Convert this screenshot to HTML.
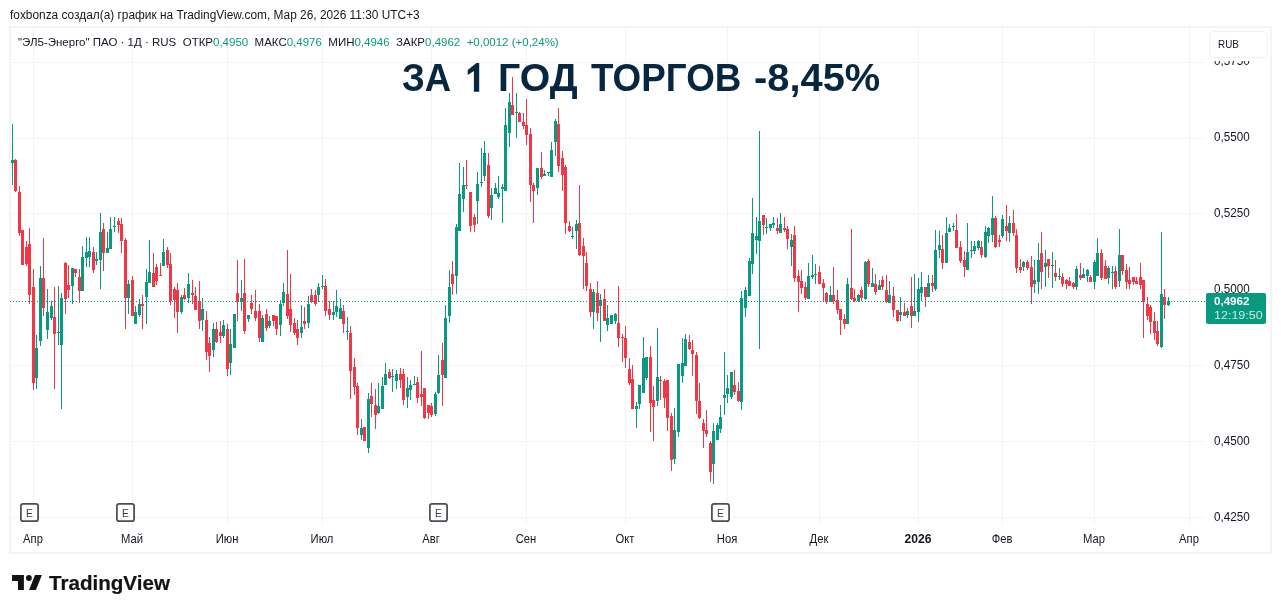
<!DOCTYPE html>
<html><head><meta charset="utf-8"><title>chart</title>
<style>
html,body{margin:0;padding:0;background:#fff;}
body{width:1281px;height:613px;position:relative;overflow:hidden;font-family:"Liberation Sans",sans-serif;color:#131722;}
.hdr{position:absolute;left:10px;top:7.8px;font-size:12px;transform:scaleX(0.99);line-height:14px;white-space:nowrap;color:#131722;transform-origin:0 0;}
.frame{position:absolute;left:9px;top:26px;width:1263px;height:528px;border:2px solid #f4f4f5;box-sizing:border-box;}
svg{position:absolute;left:0;top:0;}
.leg{position:absolute;left:18px;top:35px;font-size:11.5px;line-height:14px;white-space:nowrap;transform-origin:0 0;}
.leg span.g{color:#089981;}
.title{position:absolute;top:53.5px;font-size:39.4px;line-height:46px;font-weight:bold;color:#07263f;white-space:nowrap;transform-origin:0 0;}
.xl{position:absolute;top:532px;width:60px;text-align:center;font-size:12px;line-height:14px;transform:scaleX(0.935);}
.xl.b{font-weight:bold;transform:scaleX(1.01);}
.yl{position:absolute;left:1214px;font-size:12.5px;line-height:14px;transform:scaleX(0.935);transform-origin:0 0;}
.rubw{position:absolute;left:1206px;top:28px;width:64px;height:33px;background:#fff;}
.rub{position:absolute;left:1208.5px;top:30.5px;width:59px;height:27px;border:1.5px solid #f0f1f3;border-radius:5px;background:#fff;box-sizing:border-box;}
.rub span{position:absolute;left:8.5px;top:5.5px;font-size:11.5px;line-height:14px;transform:scaleX(0.86);transform-origin:0 0;}
.plab{position:absolute;left:1206px;top:293px;width:60px;height:31px;background:#089981;border-radius:2px;color:#fff;font-size:11.6px;}
.plab .p{position:absolute;left:8px;top:1px;line-height:14px;font-weight:bold;}
.plab .t{position:absolute;left:7.5px;top:15px;line-height:14px;color:rgba(255,255,255,0.8);transform:scaleX(1.08);transform-origin:0 0;}
.e{position:absolute;top:503px;width:19px;height:19px;}
.e svg{position:absolute;left:0;top:0;}
.e span{position:absolute;left:2px;top:2px;width:15px;font-size:11.7px;line-height:15px;text-align:center;color:#3c3f48;transform:scaleX(0.88);}
.logo{position:absolute;left:12px;top:575px;}
.tv{position:absolute;left:48.6px;top:570.7px;font-size:20.2px;line-height:24px;font-weight:bold;color:#131313;white-space:nowrap;transform-origin:0 0;transform:scaleX(1.02);-webkit-text-stroke:0.2px #131313;}
</style></head><body>
<div id="root" style="position:absolute;left:0;top:0;width:1281px;height:613px;transform:translateZ(0);will-change:transform;">
<div class="hdr">foxbonza создал(а) график на TradingView.com, Мар 26, 2026 11:30 UTC+3</div>
<div class="frame"></div>
<svg width="1281" height="613" viewBox="0 0 1281 613" shape-rendering="crispEdges">
<rect x="33" y="28" width="1" height="497" fill="#f3f4f5"/>
<rect x="132" y="28" width="1" height="497" fill="#f3f4f5"/>
<rect x="227" y="28" width="1" height="497" fill="#f3f4f5"/>
<rect x="322" y="28" width="1" height="497" fill="#f3f4f5"/>
<rect x="431" y="28" width="1" height="497" fill="#f3f4f5"/>
<rect x="526" y="28" width="1" height="497" fill="#f3f4f5"/>
<rect x="625" y="28" width="1" height="497" fill="#f3f4f5"/>
<rect x="727" y="28" width="1" height="497" fill="#f3f4f5"/>
<rect x="819" y="28" width="1" height="497" fill="#f3f4f5"/>
<rect x="918" y="28" width="1" height="497" fill="#f3f4f5"/>
<rect x="1002" y="28" width="1" height="497" fill="#f3f4f5"/>
<rect x="1094" y="28" width="1" height="497" fill="#f3f4f5"/>
<rect x="1189" y="28" width="1" height="497" fill="#f3f4f5"/>
<rect x="11" y="62" width="1194" height="1" fill="#f3f4f5"/>
<rect x="11" y="138" width="1194" height="1" fill="#f3f4f5"/>
<rect x="11" y="213" width="1194" height="1" fill="#f3f4f5"/>
<rect x="11" y="289" width="1194" height="1" fill="#f3f4f5"/>
<rect x="11" y="365" width="1194" height="1" fill="#f3f4f5"/>
<rect x="11" y="441" width="1194" height="1" fill="#f3f4f5"/>
<rect x="11" y="517" width="1194" height="1" fill="#f3f4f5"/>
</svg>
<svg width="1281" height="613" viewBox="0 0 1281 613" style="position:absolute;left:0;top:0"><path d="M479.2 62.9H476.4L467.7 70V74.9L473.9 70.9V91.8H479.2Z" fill="#07263f"/></svg><div class="title" style="left:402.28px;transform:scaleX(0.9254)">ЗА</div><div class="title" style="left:498.39px;transform:scaleX(0.9955)">ГОД</div><div class="title" style="left:590.67px;transform:scaleX(0.9346)">ТОРГОВ</div><div class="title" style="left:753.87px;transform:scaleX(1.0115)">-8,45%</div>
<svg width="1281" height="613" viewBox="0 0 1281 613" shape-rendering="crispEdges">
<rect x="12" y="124" width="1" height="61" fill="#089981"/>
<rect x="11" y="160" width="3" height="3" fill="#089981"/>
<rect x="15" y="159" width="1" height="33" fill="#f23645"/>
<rect x="14" y="160" width="3" height="31" fill="#f23645"/>
<rect x="19" y="186" width="1" height="50" fill="#f23645"/>
<rect x="18" y="192" width="3" height="41" fill="#f23645"/>
<rect x="22" y="230" width="1" height="35" fill="#f23645"/>
<rect x="21" y="230" width="3" height="35" fill="#f23645"/>
<rect x="26" y="241" width="1" height="25" fill="#f23645"/>
<rect x="25" y="247" width="3" height="17" fill="#f23645"/>
<rect x="29" y="228" width="1" height="76" fill="#f23645"/>
<rect x="28" y="244" width="3" height="51" fill="#f23645"/>
<rect x="33" y="269" width="1" height="121" fill="#f23645"/>
<rect x="32" y="287" width="3" height="96" fill="#f23645"/>
<rect x="36" y="335" width="1" height="54" fill="#089981"/>
<rect x="35" y="348" width="3" height="30" fill="#089981"/>
<rect x="40" y="266" width="1" height="80" fill="#089981"/>
<rect x="39" y="278" width="3" height="63" fill="#089981"/>
<rect x="43" y="238" width="1" height="78" fill="#f23645"/>
<rect x="42" y="278" width="3" height="30" fill="#f23645"/>
<rect x="47" y="289" width="1" height="50" fill="#089981"/>
<rect x="46" y="312" width="3" height="18" fill="#089981"/>
<rect x="51" y="301" width="1" height="19" fill="#089981"/>
<rect x="50" y="306" width="3" height="12" fill="#089981"/>
<rect x="54" y="287" width="1" height="102" fill="#f23645"/>
<rect x="53" y="317" width="3" height="17" fill="#f23645"/>
<rect x="58" y="286" width="1" height="59" fill="#089981"/>
<rect x="57" y="332" width="3" height="1" fill="#089981"/>
<rect x="61" y="293" width="1" height="116" fill="#089981"/>
<rect x="60" y="298" width="3" height="47" fill="#089981"/>
<rect x="65" y="262" width="1" height="52" fill="#f23645"/>
<rect x="64" y="263" width="3" height="36" fill="#f23645"/>
<rect x="68" y="265" width="1" height="33" fill="#f23645"/>
<rect x="67" y="285" width="3" height="5" fill="#f23645"/>
<rect x="72" y="268" width="1" height="36" fill="#089981"/>
<rect x="71" y="268" width="3" height="18" fill="#089981"/>
<rect x="75" y="269" width="1" height="8" fill="#f23645"/>
<rect x="74" y="269" width="3" height="4" fill="#f23645"/>
<rect x="79" y="269" width="1" height="34" fill="#f23645"/>
<rect x="78" y="277" width="3" height="14" fill="#f23645"/>
<rect x="82" y="246" width="1" height="45" fill="#089981"/>
<rect x="81" y="257" width="3" height="34" fill="#089981"/>
<rect x="86" y="237" width="1" height="30" fill="#089981"/>
<rect x="85" y="252" width="3" height="6" fill="#089981"/>
<rect x="89" y="237" width="1" height="30" fill="#089981"/>
<rect x="88" y="251" width="3" height="6" fill="#089981"/>
<rect x="93" y="247" width="1" height="26" fill="#f23645"/>
<rect x="92" y="252" width="3" height="18" fill="#f23645"/>
<rect x="96" y="252" width="1" height="13" fill="#089981"/>
<rect x="95" y="259" width="3" height="2" fill="#089981"/>
<rect x="100" y="213" width="1" height="76" fill="#089981"/>
<rect x="99" y="232" width="3" height="28" fill="#089981"/>
<rect x="103" y="223" width="1" height="48" fill="#f23645"/>
<rect x="102" y="229" width="3" height="24" fill="#f23645"/>
<rect x="107" y="232" width="1" height="21" fill="#089981"/>
<rect x="106" y="248" width="3" height="5" fill="#089981"/>
<rect x="110" y="217" width="1" height="32" fill="#089981"/>
<rect x="109" y="229" width="3" height="20" fill="#089981"/>
<rect x="114" y="217" width="1" height="15" fill="#089981"/>
<rect x="113" y="226" width="3" height="1" fill="#089981"/>
<rect x="118" y="218" width="1" height="15" fill="#f23645"/>
<rect x="117" y="221" width="3" height="4" fill="#f23645"/>
<rect x="121" y="218" width="1" height="35" fill="#f23645"/>
<rect x="120" y="224" width="3" height="17" fill="#f23645"/>
<rect x="125" y="238" width="1" height="91" fill="#f23645"/>
<rect x="124" y="240" width="3" height="58" fill="#f23645"/>
<rect x="128" y="280" width="1" height="34" fill="#089981"/>
<rect x="127" y="284" width="3" height="14" fill="#089981"/>
<rect x="132" y="276" width="1" height="40" fill="#f23645"/>
<rect x="131" y="280" width="3" height="36" fill="#f23645"/>
<rect x="135" y="306" width="1" height="18" fill="#089981"/>
<rect x="134" y="312" width="3" height="12" fill="#089981"/>
<rect x="139" y="299" width="1" height="18" fill="#089981"/>
<rect x="138" y="304" width="3" height="11" fill="#089981"/>
<rect x="142" y="295" width="1" height="34" fill="#f23645"/>
<rect x="141" y="304" width="3" height="2" fill="#f23645"/>
<rect x="146" y="269" width="1" height="55" fill="#089981"/>
<rect x="145" y="282" width="3" height="15" fill="#089981"/>
<rect x="149" y="240" width="1" height="43" fill="#089981"/>
<rect x="148" y="272" width="3" height="11" fill="#089981"/>
<rect x="153" y="253" width="1" height="34" fill="#f23645"/>
<rect x="152" y="273" width="3" height="14" fill="#f23645"/>
<rect x="156" y="264" width="1" height="21" fill="#f23645"/>
<rect x="155" y="267" width="3" height="14" fill="#f23645"/>
<rect x="160" y="263" width="1" height="13" fill="#f23645"/>
<rect x="159" y="275" width="3" height="1" fill="#f23645"/>
<rect x="163" y="239" width="1" height="27" fill="#089981"/>
<rect x="162" y="252" width="3" height="14" fill="#089981"/>
<rect x="167" y="247" width="1" height="21" fill="#f23645"/>
<rect x="166" y="250" width="3" height="15" fill="#f23645"/>
<rect x="170" y="253" width="1" height="52" fill="#f23645"/>
<rect x="169" y="264" width="3" height="37" fill="#f23645"/>
<rect x="174" y="287" width="1" height="31" fill="#f23645"/>
<rect x="173" y="289" width="3" height="11" fill="#f23645"/>
<rect x="177" y="283" width="1" height="50" fill="#f23645"/>
<rect x="176" y="290" width="3" height="22" fill="#f23645"/>
<rect x="181" y="295" width="1" height="19" fill="#089981"/>
<rect x="180" y="297" width="3" height="15" fill="#089981"/>
<rect x="184" y="288" width="1" height="12" fill="#f23645"/>
<rect x="183" y="295" width="3" height="4" fill="#f23645"/>
<rect x="188" y="273" width="1" height="30" fill="#089981"/>
<rect x="187" y="284" width="3" height="14" fill="#089981"/>
<rect x="192" y="280" width="1" height="24" fill="#f23645"/>
<rect x="191" y="293" width="3" height="2" fill="#f23645"/>
<rect x="195" y="287" width="1" height="23" fill="#f23645"/>
<rect x="194" y="296" width="3" height="14" fill="#f23645"/>
<rect x="199" y="281" width="1" height="48" fill="#f23645"/>
<rect x="198" y="301" width="3" height="20" fill="#f23645"/>
<rect x="202" y="298" width="1" height="33" fill="#089981"/>
<rect x="201" y="309" width="3" height="11" fill="#089981"/>
<rect x="206" y="311" width="1" height="49" fill="#f23645"/>
<rect x="205" y="320" width="3" height="32" fill="#f23645"/>
<rect x="209" y="337" width="1" height="35" fill="#f23645"/>
<rect x="208" y="343" width="3" height="13" fill="#f23645"/>
<rect x="213" y="323" width="1" height="34" fill="#089981"/>
<rect x="212" y="329" width="3" height="21" fill="#089981"/>
<rect x="216" y="322" width="1" height="21" fill="#f23645"/>
<rect x="215" y="329" width="3" height="13" fill="#f23645"/>
<rect x="220" y="321" width="1" height="22" fill="#f23645"/>
<rect x="219" y="332" width="3" height="4" fill="#f23645"/>
<rect x="223" y="320" width="1" height="18" fill="#089981"/>
<rect x="222" y="325" width="3" height="11" fill="#089981"/>
<rect x="227" y="324" width="1" height="52" fill="#f23645"/>
<rect x="226" y="329" width="3" height="40" fill="#f23645"/>
<rect x="230" y="329" width="1" height="46" fill="#089981"/>
<rect x="229" y="344" width="3" height="19" fill="#089981"/>
<rect x="234" y="314" width="1" height="34" fill="#089981"/>
<rect x="233" y="314" width="3" height="34" fill="#089981"/>
<rect x="237" y="260" width="1" height="61" fill="#f23645"/>
<rect x="236" y="293" width="3" height="9" fill="#f23645"/>
<rect x="241" y="280" width="1" height="31" fill="#089981"/>
<rect x="240" y="298" width="3" height="4" fill="#089981"/>
<rect x="244" y="259" width="1" height="75" fill="#f23645"/>
<rect x="243" y="293" width="3" height="38" fill="#f23645"/>
<rect x="248" y="315" width="1" height="7" fill="#089981"/>
<rect x="247" y="315" width="3" height="4" fill="#089981"/>
<rect x="251" y="295" width="1" height="19" fill="#f23645"/>
<rect x="250" y="303" width="3" height="6" fill="#f23645"/>
<rect x="255" y="290" width="1" height="31" fill="#f23645"/>
<rect x="254" y="311" width="3" height="7" fill="#f23645"/>
<rect x="259" y="304" width="1" height="38" fill="#f23645"/>
<rect x="258" y="311" width="3" height="27" fill="#f23645"/>
<rect x="262" y="315" width="1" height="27" fill="#089981"/>
<rect x="261" y="318" width="3" height="24" fill="#089981"/>
<rect x="266" y="309" width="1" height="22" fill="#f23645"/>
<rect x="265" y="314" width="3" height="14" fill="#f23645"/>
<rect x="269" y="316" width="1" height="12" fill="#089981"/>
<rect x="268" y="321" width="3" height="5" fill="#089981"/>
<rect x="273" y="315" width="1" height="11" fill="#f23645"/>
<rect x="272" y="315" width="3" height="6" fill="#f23645"/>
<rect x="276" y="316" width="1" height="19" fill="#f23645"/>
<rect x="275" y="316" width="3" height="13" fill="#f23645"/>
<rect x="280" y="300" width="1" height="36" fill="#089981"/>
<rect x="279" y="304" width="3" height="21" fill="#089981"/>
<rect x="283" y="283" width="1" height="23" fill="#089981"/>
<rect x="282" y="292" width="3" height="11" fill="#089981"/>
<rect x="287" y="250" width="1" height="69" fill="#f23645"/>
<rect x="286" y="294" width="3" height="22" fill="#f23645"/>
<rect x="290" y="274" width="1" height="58" fill="#f23645"/>
<rect x="289" y="309" width="3" height="16" fill="#f23645"/>
<rect x="294" y="318" width="1" height="17" fill="#f23645"/>
<rect x="293" y="323" width="3" height="10" fill="#f23645"/>
<rect x="297" y="320" width="1" height="25" fill="#f23645"/>
<rect x="296" y="329" width="3" height="9" fill="#f23645"/>
<rect x="301" y="305" width="1" height="33" fill="#089981"/>
<rect x="300" y="327" width="3" height="6" fill="#089981"/>
<rect x="304" y="307" width="1" height="22" fill="#f23645"/>
<rect x="303" y="321" width="3" height="3" fill="#f23645"/>
<rect x="308" y="296" width="1" height="32" fill="#089981"/>
<rect x="307" y="304" width="3" height="19" fill="#089981"/>
<rect x="311" y="289" width="1" height="14" fill="#f23645"/>
<rect x="310" y="295" width="3" height="7" fill="#f23645"/>
<rect x="315" y="290" width="1" height="16" fill="#f23645"/>
<rect x="314" y="295" width="3" height="9" fill="#f23645"/>
<rect x="318" y="283" width="1" height="19" fill="#089981"/>
<rect x="317" y="287" width="3" height="8" fill="#089981"/>
<rect x="322" y="275" width="1" height="14" fill="#089981"/>
<rect x="321" y="286" width="3" height="1" fill="#089981"/>
<rect x="325" y="279" width="1" height="37" fill="#f23645"/>
<rect x="324" y="286" width="3" height="25" fill="#f23645"/>
<rect x="329" y="301" width="1" height="19" fill="#f23645"/>
<rect x="328" y="309" width="3" height="6" fill="#f23645"/>
<rect x="333" y="301" width="1" height="19" fill="#089981"/>
<rect x="332" y="312" width="3" height="3" fill="#089981"/>
<rect x="336" y="290" width="1" height="27" fill="#089981"/>
<rect x="335" y="306" width="3" height="6" fill="#089981"/>
<rect x="340" y="299" width="1" height="20" fill="#089981"/>
<rect x="339" y="308" width="3" height="11" fill="#089981"/>
<rect x="343" y="305" width="1" height="28" fill="#f23645"/>
<rect x="342" y="311" width="3" height="13" fill="#f23645"/>
<rect x="347" y="317" width="1" height="23" fill="#089981"/>
<rect x="346" y="331" width="3" height="1" fill="#089981"/>
<rect x="350" y="326" width="1" height="73" fill="#f23645"/>
<rect x="349" y="333" width="3" height="38" fill="#f23645"/>
<rect x="354" y="358" width="1" height="37" fill="#f23645"/>
<rect x="353" y="367" width="3" height="20" fill="#f23645"/>
<rect x="357" y="383" width="1" height="52" fill="#f23645"/>
<rect x="356" y="386" width="3" height="42" fill="#f23645"/>
<rect x="361" y="419" width="1" height="21" fill="#089981"/>
<rect x="360" y="428" width="3" height="7" fill="#089981"/>
<rect x="364" y="427" width="1" height="14" fill="#f23645"/>
<rect x="363" y="427" width="3" height="14" fill="#f23645"/>
<rect x="368" y="393" width="1" height="60" fill="#089981"/>
<rect x="367" y="399" width="3" height="49" fill="#089981"/>
<rect x="371" y="383" width="1" height="34" fill="#f23645"/>
<rect x="370" y="396" width="3" height="8" fill="#f23645"/>
<rect x="375" y="389" width="1" height="40" fill="#f23645"/>
<rect x="374" y="405" width="3" height="10" fill="#f23645"/>
<rect x="378" y="383" width="1" height="31" fill="#089981"/>
<rect x="377" y="406" width="3" height="7" fill="#089981"/>
<rect x="382" y="377" width="1" height="32" fill="#089981"/>
<rect x="381" y="386" width="3" height="23" fill="#089981"/>
<rect x="385" y="363" width="1" height="22" fill="#089981"/>
<rect x="384" y="374" width="3" height="11" fill="#089981"/>
<rect x="389" y="369" width="1" height="10" fill="#f23645"/>
<rect x="388" y="372" width="3" height="6" fill="#f23645"/>
<rect x="392" y="369" width="1" height="23" fill="#089981"/>
<rect x="391" y="376" width="3" height="1" fill="#089981"/>
<rect x="396" y="370" width="1" height="19" fill="#089981"/>
<rect x="395" y="374" width="3" height="7" fill="#089981"/>
<rect x="400" y="368" width="1" height="20" fill="#f23645"/>
<rect x="399" y="374" width="3" height="6" fill="#f23645"/>
<rect x="403" y="369" width="1" height="36" fill="#f23645"/>
<rect x="402" y="374" width="3" height="26" fill="#f23645"/>
<rect x="407" y="377" width="1" height="31" fill="#089981"/>
<rect x="406" y="388" width="3" height="9" fill="#089981"/>
<rect x="410" y="380" width="1" height="20" fill="#089981"/>
<rect x="409" y="385" width="3" height="5" fill="#089981"/>
<rect x="414" y="376" width="1" height="9" fill="#089981"/>
<rect x="413" y="384" width="3" height="1" fill="#089981"/>
<rect x="417" y="377" width="1" height="26" fill="#f23645"/>
<rect x="416" y="382" width="3" height="16" fill="#f23645"/>
<rect x="421" y="351" width="1" height="55" fill="#f23645"/>
<rect x="420" y="394" width="3" height="3" fill="#f23645"/>
<rect x="424" y="388" width="1" height="31" fill="#f23645"/>
<rect x="423" y="388" width="3" height="30" fill="#f23645"/>
<rect x="428" y="405" width="1" height="14" fill="#f23645"/>
<rect x="427" y="405" width="3" height="8" fill="#f23645"/>
<rect x="431" y="403" width="1" height="14" fill="#f23645"/>
<rect x="430" y="406" width="3" height="9" fill="#f23645"/>
<rect x="435" y="392" width="1" height="24" fill="#089981"/>
<rect x="434" y="394" width="3" height="20" fill="#089981"/>
<rect x="438" y="355" width="1" height="39" fill="#089981"/>
<rect x="437" y="375" width="3" height="18" fill="#089981"/>
<rect x="442" y="343" width="1" height="63" fill="#f23645"/>
<rect x="441" y="360" width="3" height="15" fill="#f23645"/>
<rect x="445" y="305" width="1" height="73" fill="#089981"/>
<rect x="444" y="318" width="3" height="60" fill="#089981"/>
<rect x="449" y="270" width="1" height="53" fill="#089981"/>
<rect x="448" y="287" width="3" height="29" fill="#089981"/>
<rect x="452" y="261" width="1" height="34" fill="#f23645"/>
<rect x="451" y="274" width="3" height="10" fill="#f23645"/>
<rect x="456" y="224" width="1" height="70" fill="#089981"/>
<rect x="455" y="227" width="3" height="49" fill="#089981"/>
<rect x="459" y="163" width="1" height="68" fill="#089981"/>
<rect x="458" y="194" width="3" height="37" fill="#089981"/>
<rect x="463" y="167" width="1" height="45" fill="#089981"/>
<rect x="462" y="185" width="3" height="14" fill="#089981"/>
<rect x="466" y="160" width="1" height="29" fill="#f23645"/>
<rect x="465" y="185" width="3" height="1" fill="#f23645"/>
<rect x="470" y="192" width="1" height="40" fill="#f23645"/>
<rect x="469" y="192" width="3" height="34" fill="#f23645"/>
<rect x="474" y="214" width="1" height="18" fill="#f23645"/>
<rect x="473" y="217" width="3" height="8" fill="#f23645"/>
<rect x="477" y="172" width="1" height="52" fill="#089981"/>
<rect x="476" y="184" width="3" height="17" fill="#089981"/>
<rect x="481" y="148" width="1" height="39" fill="#089981"/>
<rect x="480" y="182" width="3" height="1" fill="#089981"/>
<rect x="484" y="141" width="1" height="40" fill="#089981"/>
<rect x="483" y="153" width="3" height="23" fill="#089981"/>
<rect x="488" y="153" width="1" height="65" fill="#f23645"/>
<rect x="487" y="165" width="3" height="51" fill="#f23645"/>
<rect x="491" y="188" width="1" height="32" fill="#089981"/>
<rect x="490" y="195" width="3" height="13" fill="#089981"/>
<rect x="495" y="183" width="1" height="11" fill="#089981"/>
<rect x="494" y="188" width="3" height="6" fill="#089981"/>
<rect x="498" y="176" width="1" height="23" fill="#089981"/>
<rect x="497" y="193" width="3" height="4" fill="#089981"/>
<rect x="502" y="184" width="1" height="39" fill="#089981"/>
<rect x="501" y="187" width="3" height="2" fill="#089981"/>
<rect x="505" y="108" width="1" height="83" fill="#089981"/>
<rect x="504" y="125" width="3" height="66" fill="#089981"/>
<rect x="509" y="93" width="1" height="54" fill="#089981"/>
<rect x="508" y="102" width="3" height="31" fill="#089981"/>
<rect x="512" y="77" width="1" height="38" fill="#f23645"/>
<rect x="511" y="105" width="3" height="10" fill="#f23645"/>
<rect x="516" y="93" width="1" height="45" fill="#089981"/>
<rect x="515" y="112" width="3" height="1" fill="#089981"/>
<rect x="519" y="112" width="1" height="10" fill="#f23645"/>
<rect x="518" y="113" width="3" height="9" fill="#f23645"/>
<rect x="523" y="113" width="1" height="16" fill="#f23645"/>
<rect x="522" y="122" width="3" height="4" fill="#f23645"/>
<rect x="526" y="99" width="1" height="46" fill="#f23645"/>
<rect x="525" y="125" width="3" height="10" fill="#f23645"/>
<rect x="530" y="128" width="1" height="74" fill="#f23645"/>
<rect x="529" y="134" width="3" height="51" fill="#f23645"/>
<rect x="533" y="183" width="1" height="40" fill="#f23645"/>
<rect x="532" y="185" width="3" height="6" fill="#f23645"/>
<rect x="537" y="168" width="1" height="27" fill="#089981"/>
<rect x="536" y="168" width="3" height="20" fill="#089981"/>
<rect x="541" y="152" width="1" height="27" fill="#f23645"/>
<rect x="540" y="168" width="3" height="9" fill="#f23645"/>
<rect x="544" y="170" width="1" height="6" fill="#089981"/>
<rect x="543" y="174" width="3" height="2" fill="#089981"/>
<rect x="548" y="172" width="1" height="4" fill="#089981"/>
<rect x="547" y="172" width="3" height="1" fill="#089981"/>
<rect x="551" y="142" width="1" height="35" fill="#089981"/>
<rect x="550" y="150" width="3" height="27" fill="#089981"/>
<rect x="555" y="119" width="1" height="37" fill="#089981"/>
<rect x="554" y="121" width="3" height="21" fill="#089981"/>
<rect x="558" y="108" width="1" height="64" fill="#f23645"/>
<rect x="557" y="124" width="3" height="42" fill="#f23645"/>
<rect x="562" y="151" width="1" height="40" fill="#f23645"/>
<rect x="561" y="158" width="3" height="17" fill="#f23645"/>
<rect x="565" y="165" width="1" height="69" fill="#f23645"/>
<rect x="564" y="167" width="3" height="56" fill="#f23645"/>
<rect x="569" y="221" width="1" height="11" fill="#f23645"/>
<rect x="568" y="226" width="3" height="5" fill="#f23645"/>
<rect x="572" y="227" width="1" height="12" fill="#089981"/>
<rect x="571" y="236" width="3" height="1" fill="#089981"/>
<rect x="576" y="220" width="1" height="29" fill="#089981"/>
<rect x="575" y="224" width="3" height="7" fill="#089981"/>
<rect x="579" y="185" width="1" height="71" fill="#f23645"/>
<rect x="578" y="223" width="3" height="32" fill="#f23645"/>
<rect x="583" y="238" width="1" height="51" fill="#f23645"/>
<rect x="582" y="246" width="3" height="10" fill="#f23645"/>
<rect x="586" y="252" width="1" height="39" fill="#f23645"/>
<rect x="585" y="263" width="3" height="23" fill="#f23645"/>
<rect x="590" y="283" width="1" height="34" fill="#f23645"/>
<rect x="589" y="289" width="3" height="23" fill="#f23645"/>
<rect x="593" y="289" width="1" height="40" fill="#089981"/>
<rect x="592" y="292" width="3" height="20" fill="#089981"/>
<rect x="597" y="281" width="1" height="40" fill="#f23645"/>
<rect x="596" y="293" width="3" height="20" fill="#f23645"/>
<rect x="600" y="294" width="1" height="48" fill="#089981"/>
<rect x="599" y="300" width="3" height="6" fill="#089981"/>
<rect x="604" y="289" width="1" height="32" fill="#f23645"/>
<rect x="603" y="299" width="3" height="22" fill="#f23645"/>
<rect x="607" y="305" width="1" height="26" fill="#089981"/>
<rect x="606" y="318" width="3" height="7" fill="#089981"/>
<rect x="611" y="315" width="1" height="9" fill="#089981"/>
<rect x="610" y="315" width="3" height="9" fill="#089981"/>
<rect x="615" y="313" width="1" height="11" fill="#089981"/>
<rect x="614" y="314" width="3" height="7" fill="#089981"/>
<rect x="618" y="286" width="1" height="61" fill="#f23645"/>
<rect x="617" y="323" width="3" height="15" fill="#f23645"/>
<rect x="622" y="334" width="1" height="28" fill="#f23645"/>
<rect x="621" y="337" width="3" height="1" fill="#f23645"/>
<rect x="625" y="326" width="1" height="42" fill="#f23645"/>
<rect x="624" y="338" width="3" height="20" fill="#f23645"/>
<rect x="629" y="358" width="1" height="27" fill="#f23645"/>
<rect x="628" y="369" width="3" height="14" fill="#f23645"/>
<rect x="632" y="365" width="1" height="44" fill="#f23645"/>
<rect x="631" y="379" width="3" height="30" fill="#f23645"/>
<rect x="636" y="402" width="1" height="26" fill="#089981"/>
<rect x="635" y="406" width="3" height="3" fill="#089981"/>
<rect x="639" y="385" width="1" height="24" fill="#089981"/>
<rect x="638" y="385" width="3" height="19" fill="#089981"/>
<rect x="643" y="337" width="1" height="56" fill="#089981"/>
<rect x="642" y="358" width="3" height="35" fill="#089981"/>
<rect x="646" y="357" width="1" height="23" fill="#089981"/>
<rect x="645" y="357" width="3" height="21" fill="#089981"/>
<rect x="650" y="346" width="1" height="86" fill="#f23645"/>
<rect x="649" y="357" width="3" height="46" fill="#f23645"/>
<rect x="653" y="386" width="1" height="55" fill="#f23645"/>
<rect x="652" y="400" width="3" height="7" fill="#f23645"/>
<rect x="657" y="328" width="1" height="78" fill="#089981"/>
<rect x="656" y="377" width="3" height="24" fill="#089981"/>
<rect x="660" y="376" width="1" height="24" fill="#f23645"/>
<rect x="659" y="380" width="3" height="1" fill="#f23645"/>
<rect x="664" y="379" width="1" height="29" fill="#f23645"/>
<rect x="663" y="381" width="3" height="17" fill="#f23645"/>
<rect x="667" y="380" width="1" height="51" fill="#f23645"/>
<rect x="666" y="380" width="3" height="38" fill="#f23645"/>
<rect x="671" y="413" width="1" height="58" fill="#f23645"/>
<rect x="670" y="416" width="3" height="44" fill="#f23645"/>
<rect x="674" y="408" width="1" height="56" fill="#089981"/>
<rect x="673" y="430" width="3" height="29" fill="#089981"/>
<rect x="678" y="364" width="1" height="73" fill="#089981"/>
<rect x="677" y="364" width="3" height="68" fill="#089981"/>
<rect x="682" y="338" width="1" height="45" fill="#089981"/>
<rect x="681" y="363" width="3" height="13" fill="#089981"/>
<rect x="685" y="334" width="1" height="32" fill="#089981"/>
<rect x="684" y="339" width="3" height="27" fill="#089981"/>
<rect x="689" y="335" width="1" height="15" fill="#f23645"/>
<rect x="688" y="342" width="3" height="7" fill="#f23645"/>
<rect x="692" y="340" width="1" height="36" fill="#f23645"/>
<rect x="691" y="350" width="3" height="4" fill="#f23645"/>
<rect x="696" y="352" width="1" height="62" fill="#f23645"/>
<rect x="695" y="355" width="3" height="46" fill="#f23645"/>
<rect x="699" y="383" width="1" height="36" fill="#f23645"/>
<rect x="698" y="401" width="3" height="17" fill="#f23645"/>
<rect x="703" y="419" width="1" height="29" fill="#f23645"/>
<rect x="702" y="423" width="3" height="8" fill="#f23645"/>
<rect x="706" y="410" width="1" height="27" fill="#f23645"/>
<rect x="705" y="430" width="3" height="4" fill="#f23645"/>
<rect x="710" y="441" width="1" height="41" fill="#f23645"/>
<rect x="709" y="443" width="3" height="29" fill="#f23645"/>
<rect x="713" y="423" width="1" height="61" fill="#089981"/>
<rect x="712" y="431" width="3" height="33" fill="#089981"/>
<rect x="717" y="423" width="1" height="17" fill="#089981"/>
<rect x="716" y="425" width="3" height="15" fill="#089981"/>
<rect x="720" y="405" width="1" height="28" fill="#089981"/>
<rect x="719" y="417" width="3" height="12" fill="#089981"/>
<rect x="724" y="352" width="1" height="63" fill="#089981"/>
<rect x="723" y="395" width="3" height="3" fill="#089981"/>
<rect x="727" y="375" width="1" height="28" fill="#089981"/>
<rect x="726" y="388" width="3" height="6" fill="#089981"/>
<rect x="731" y="372" width="1" height="27" fill="#089981"/>
<rect x="730" y="372" width="3" height="25" fill="#089981"/>
<rect x="734" y="370" width="1" height="25" fill="#f23645"/>
<rect x="733" y="385" width="3" height="7" fill="#f23645"/>
<rect x="738" y="382" width="1" height="20" fill="#f23645"/>
<rect x="737" y="391" width="3" height="10" fill="#f23645"/>
<rect x="741" y="291" width="1" height="119" fill="#089981"/>
<rect x="740" y="298" width="3" height="104" fill="#089981"/>
<rect x="745" y="287" width="1" height="30" fill="#089981"/>
<rect x="744" y="290" width="3" height="18" fill="#089981"/>
<rect x="749" y="258" width="1" height="38" fill="#089981"/>
<rect x="748" y="261" width="3" height="35" fill="#089981"/>
<rect x="752" y="198" width="1" height="76" fill="#089981"/>
<rect x="751" y="233" width="3" height="31" fill="#089981"/>
<rect x="756" y="217" width="1" height="37" fill="#089981"/>
<rect x="755" y="236" width="3" height="4" fill="#089981"/>
<rect x="759" y="131" width="1" height="218" fill="#089981"/>
<rect x="758" y="221" width="3" height="20" fill="#089981"/>
<rect x="763" y="215" width="1" height="20" fill="#f23645"/>
<rect x="762" y="215" width="3" height="10" fill="#f23645"/>
<rect x="766" y="218" width="1" height="16" fill="#089981"/>
<rect x="765" y="227" width="3" height="1" fill="#089981"/>
<rect x="770" y="224" width="1" height="7" fill="#089981"/>
<rect x="769" y="224" width="3" height="4" fill="#089981"/>
<rect x="773" y="217" width="1" height="11" fill="#089981"/>
<rect x="772" y="223" width="3" height="2" fill="#089981"/>
<rect x="777" y="218" width="1" height="16" fill="#f23645"/>
<rect x="776" y="228" width="3" height="3" fill="#f23645"/>
<rect x="780" y="213" width="1" height="20" fill="#089981"/>
<rect x="779" y="224" width="3" height="9" fill="#089981"/>
<rect x="784" y="217" width="1" height="15" fill="#f23645"/>
<rect x="783" y="228" width="3" height="2" fill="#f23645"/>
<rect x="787" y="226" width="1" height="23" fill="#f23645"/>
<rect x="786" y="229" width="3" height="10" fill="#f23645"/>
<rect x="791" y="234" width="1" height="32" fill="#089981"/>
<rect x="790" y="240" width="3" height="7" fill="#089981"/>
<rect x="794" y="226" width="1" height="56" fill="#f23645"/>
<rect x="793" y="235" width="3" height="43" fill="#f23645"/>
<rect x="798" y="270" width="1" height="42" fill="#f23645"/>
<rect x="797" y="276" width="3" height="6" fill="#f23645"/>
<rect x="801" y="270" width="1" height="24" fill="#f23645"/>
<rect x="800" y="281" width="3" height="7" fill="#f23645"/>
<rect x="805" y="282" width="1" height="18" fill="#f23645"/>
<rect x="804" y="287" width="3" height="11" fill="#f23645"/>
<rect x="808" y="263" width="1" height="36" fill="#089981"/>
<rect x="807" y="276" width="3" height="23" fill="#089981"/>
<rect x="812" y="255" width="1" height="24" fill="#089981"/>
<rect x="811" y="275" width="3" height="2" fill="#089981"/>
<rect x="815" y="264" width="1" height="20" fill="#089981"/>
<rect x="814" y="274" width="3" height="1" fill="#089981"/>
<rect x="819" y="266" width="1" height="18" fill="#f23645"/>
<rect x="818" y="272" width="3" height="12" fill="#f23645"/>
<rect x="823" y="279" width="1" height="23" fill="#f23645"/>
<rect x="822" y="283" width="3" height="5" fill="#f23645"/>
<rect x="826" y="292" width="1" height="12" fill="#f23645"/>
<rect x="825" y="293" width="3" height="9" fill="#f23645"/>
<rect x="830" y="286" width="1" height="16" fill="#089981"/>
<rect x="829" y="295" width="3" height="7" fill="#089981"/>
<rect x="833" y="267" width="1" height="37" fill="#f23645"/>
<rect x="832" y="295" width="3" height="6" fill="#f23645"/>
<rect x="837" y="290" width="1" height="24" fill="#f23645"/>
<rect x="836" y="300" width="3" height="10" fill="#f23645"/>
<rect x="840" y="309" width="1" height="26" fill="#f23645"/>
<rect x="839" y="309" width="3" height="11" fill="#f23645"/>
<rect x="844" y="314" width="1" height="15" fill="#f23645"/>
<rect x="843" y="319" width="3" height="5" fill="#f23645"/>
<rect x="847" y="278" width="1" height="46" fill="#089981"/>
<rect x="846" y="284" width="3" height="40" fill="#089981"/>
<rect x="851" y="229" width="1" height="71" fill="#f23645"/>
<rect x="850" y="288" width="3" height="11" fill="#f23645"/>
<rect x="854" y="289" width="1" height="13" fill="#f23645"/>
<rect x="853" y="298" width="3" height="3" fill="#f23645"/>
<rect x="858" y="294" width="1" height="8" fill="#089981"/>
<rect x="857" y="295" width="3" height="6" fill="#089981"/>
<rect x="861" y="287" width="1" height="14" fill="#f23645"/>
<rect x="860" y="290" width="3" height="8" fill="#f23645"/>
<rect x="865" y="261" width="1" height="39" fill="#089981"/>
<rect x="864" y="262" width="3" height="37" fill="#089981"/>
<rect x="868" y="259" width="1" height="28" fill="#f23645"/>
<rect x="867" y="261" width="3" height="23" fill="#f23645"/>
<rect x="872" y="268" width="1" height="19" fill="#089981"/>
<rect x="871" y="283" width="3" height="4" fill="#089981"/>
<rect x="875" y="274" width="1" height="21" fill="#f23645"/>
<rect x="874" y="284" width="3" height="8" fill="#f23645"/>
<rect x="879" y="280" width="1" height="10" fill="#089981"/>
<rect x="878" y="285" width="3" height="5" fill="#089981"/>
<rect x="882" y="276" width="1" height="14" fill="#f23645"/>
<rect x="881" y="280" width="3" height="7" fill="#f23645"/>
<rect x="886" y="275" width="1" height="28" fill="#f23645"/>
<rect x="885" y="290" width="3" height="12" fill="#f23645"/>
<rect x="889" y="281" width="1" height="22" fill="#089981"/>
<rect x="888" y="295" width="3" height="8" fill="#089981"/>
<rect x="893" y="287" width="1" height="30" fill="#f23645"/>
<rect x="892" y="296" width="3" height="14" fill="#f23645"/>
<rect x="897" y="310" width="1" height="12" fill="#f23645"/>
<rect x="896" y="310" width="3" height="11" fill="#f23645"/>
<rect x="900" y="297" width="1" height="24" fill="#089981"/>
<rect x="899" y="312" width="3" height="3" fill="#089981"/>
<rect x="904" y="303" width="1" height="13" fill="#f23645"/>
<rect x="903" y="312" width="3" height="4" fill="#f23645"/>
<rect x="907" y="308" width="1" height="10" fill="#089981"/>
<rect x="906" y="311" width="3" height="4" fill="#089981"/>
<rect x="911" y="277" width="1" height="51" fill="#f23645"/>
<rect x="910" y="306" width="3" height="10" fill="#f23645"/>
<rect x="914" y="274" width="1" height="42" fill="#089981"/>
<rect x="913" y="311" width="3" height="5" fill="#089981"/>
<rect x="918" y="278" width="1" height="44" fill="#089981"/>
<rect x="917" y="289" width="3" height="23" fill="#089981"/>
<rect x="921" y="272" width="1" height="29" fill="#089981"/>
<rect x="920" y="287" width="3" height="6" fill="#089981"/>
<rect x="925" y="287" width="1" height="20" fill="#f23645"/>
<rect x="924" y="287" width="3" height="10" fill="#f23645"/>
<rect x="928" y="275" width="1" height="22" fill="#089981"/>
<rect x="927" y="283" width="3" height="14" fill="#089981"/>
<rect x="932" y="275" width="1" height="17" fill="#f23645"/>
<rect x="931" y="283" width="3" height="3" fill="#f23645"/>
<rect x="935" y="230" width="1" height="61" fill="#089981"/>
<rect x="934" y="250" width="3" height="39" fill="#089981"/>
<rect x="939" y="231" width="1" height="27" fill="#089981"/>
<rect x="938" y="245" width="3" height="5" fill="#089981"/>
<rect x="942" y="235" width="1" height="34" fill="#f23645"/>
<rect x="941" y="249" width="3" height="14" fill="#f23645"/>
<rect x="946" y="217" width="1" height="46" fill="#089981"/>
<rect x="945" y="233" width="3" height="30" fill="#089981"/>
<rect x="949" y="224" width="1" height="8" fill="#089981"/>
<rect x="948" y="228" width="3" height="4" fill="#089981"/>
<rect x="953" y="223" width="1" height="8" fill="#089981"/>
<rect x="952" y="226" width="3" height="1" fill="#089981"/>
<rect x="956" y="214" width="1" height="34" fill="#f23645"/>
<rect x="955" y="230" width="3" height="18" fill="#f23645"/>
<rect x="960" y="241" width="1" height="22" fill="#f23645"/>
<rect x="959" y="247" width="3" height="14" fill="#f23645"/>
<rect x="964" y="251" width="1" height="26" fill="#f23645"/>
<rect x="963" y="260" width="3" height="7" fill="#f23645"/>
<rect x="967" y="223" width="1" height="47" fill="#089981"/>
<rect x="966" y="252" width="3" height="18" fill="#089981"/>
<rect x="971" y="241" width="1" height="17" fill="#089981"/>
<rect x="970" y="250" width="3" height="1" fill="#089981"/>
<rect x="974" y="241" width="1" height="13" fill="#089981"/>
<rect x="973" y="246" width="3" height="5" fill="#089981"/>
<rect x="978" y="240" width="1" height="10" fill="#089981"/>
<rect x="977" y="241" width="3" height="7" fill="#089981"/>
<rect x="981" y="241" width="1" height="17" fill="#f23645"/>
<rect x="980" y="247" width="3" height="8" fill="#f23645"/>
<rect x="985" y="226" width="1" height="32" fill="#089981"/>
<rect x="984" y="232" width="3" height="25" fill="#089981"/>
<rect x="988" y="227" width="1" height="16" fill="#089981"/>
<rect x="987" y="228" width="3" height="8" fill="#089981"/>
<rect x="992" y="196" width="1" height="46" fill="#089981"/>
<rect x="991" y="218" width="3" height="17" fill="#089981"/>
<rect x="995" y="216" width="1" height="32" fill="#f23645"/>
<rect x="994" y="218" width="3" height="29" fill="#f23645"/>
<rect x="999" y="235" width="1" height="12" fill="#f23645"/>
<rect x="998" y="240" width="3" height="2" fill="#f23645"/>
<rect x="1002" y="215" width="1" height="23" fill="#089981"/>
<rect x="1001" y="219" width="3" height="17" fill="#089981"/>
<rect x="1006" y="205" width="1" height="36" fill="#f23645"/>
<rect x="1005" y="226" width="3" height="5" fill="#f23645"/>
<rect x="1009" y="216" width="1" height="26" fill="#089981"/>
<rect x="1008" y="223" width="3" height="10" fill="#089981"/>
<rect x="1013" y="210" width="1" height="26" fill="#f23645"/>
<rect x="1012" y="223" width="3" height="10" fill="#f23645"/>
<rect x="1016" y="229" width="1" height="44" fill="#f23645"/>
<rect x="1015" y="235" width="3" height="33" fill="#f23645"/>
<rect x="1020" y="259" width="1" height="14" fill="#f23645"/>
<rect x="1019" y="267" width="3" height="3" fill="#f23645"/>
<rect x="1023" y="261" width="1" height="10" fill="#089981"/>
<rect x="1022" y="262" width="3" height="5" fill="#089981"/>
<rect x="1027" y="260" width="1" height="10" fill="#f23645"/>
<rect x="1026" y="262" width="3" height="6" fill="#f23645"/>
<rect x="1031" y="256" width="1" height="48" fill="#f23645"/>
<rect x="1030" y="267" width="3" height="20" fill="#f23645"/>
<rect x="1034" y="260" width="1" height="33" fill="#089981"/>
<rect x="1033" y="280" width="3" height="4" fill="#089981"/>
<rect x="1038" y="243" width="1" height="51" fill="#089981"/>
<rect x="1037" y="260" width="3" height="22" fill="#089981"/>
<rect x="1041" y="232" width="1" height="57" fill="#f23645"/>
<rect x="1040" y="253" width="3" height="19" fill="#f23645"/>
<rect x="1045" y="250" width="1" height="37" fill="#089981"/>
<rect x="1044" y="263" width="3" height="4" fill="#089981"/>
<rect x="1048" y="259" width="1" height="19" fill="#f23645"/>
<rect x="1047" y="259" width="3" height="7" fill="#f23645"/>
<rect x="1052" y="252" width="1" height="36" fill="#089981"/>
<rect x="1051" y="265" width="3" height="1" fill="#089981"/>
<rect x="1055" y="260" width="1" height="21" fill="#f23645"/>
<rect x="1054" y="273" width="3" height="4" fill="#f23645"/>
<rect x="1059" y="268" width="1" height="12" fill="#089981"/>
<rect x="1058" y="276" width="3" height="1" fill="#089981"/>
<rect x="1062" y="273" width="1" height="14" fill="#f23645"/>
<rect x="1061" y="277" width="3" height="7" fill="#f23645"/>
<rect x="1066" y="279" width="1" height="10" fill="#f23645"/>
<rect x="1065" y="280" width="3" height="4" fill="#f23645"/>
<rect x="1069" y="277" width="1" height="9" fill="#f23645"/>
<rect x="1068" y="281" width="3" height="5" fill="#f23645"/>
<rect x="1073" y="282" width="1" height="7" fill="#f23645"/>
<rect x="1072" y="283" width="3" height="4" fill="#f23645"/>
<rect x="1076" y="266" width="1" height="24" fill="#089981"/>
<rect x="1075" y="269" width="3" height="18" fill="#089981"/>
<rect x="1080" y="263" width="1" height="17" fill="#f23645"/>
<rect x="1079" y="275" width="3" height="3" fill="#f23645"/>
<rect x="1083" y="268" width="1" height="10" fill="#089981"/>
<rect x="1082" y="274" width="3" height="4" fill="#089981"/>
<rect x="1087" y="269" width="1" height="13" fill="#089981"/>
<rect x="1086" y="270" width="3" height="6" fill="#089981"/>
<rect x="1090" y="275" width="1" height="7" fill="#f23645"/>
<rect x="1089" y="277" width="3" height="5" fill="#f23645"/>
<rect x="1094" y="260" width="1" height="29" fill="#089981"/>
<rect x="1093" y="262" width="3" height="20" fill="#089981"/>
<rect x="1097" y="238" width="1" height="38" fill="#089981"/>
<rect x="1096" y="253" width="3" height="23" fill="#089981"/>
<rect x="1101" y="249" width="1" height="31" fill="#f23645"/>
<rect x="1100" y="253" width="3" height="25" fill="#f23645"/>
<rect x="1105" y="260" width="1" height="19" fill="#f23645"/>
<rect x="1104" y="266" width="3" height="13" fill="#f23645"/>
<rect x="1108" y="266" width="1" height="18" fill="#089981"/>
<rect x="1107" y="268" width="3" height="10" fill="#089981"/>
<rect x="1112" y="266" width="1" height="23" fill="#089981"/>
<rect x="1111" y="272" width="3" height="1" fill="#089981"/>
<rect x="1115" y="266" width="1" height="23" fill="#f23645"/>
<rect x="1114" y="271" width="3" height="16" fill="#f23645"/>
<rect x="1119" y="229" width="1" height="58" fill="#089981"/>
<rect x="1118" y="255" width="3" height="26" fill="#089981"/>
<rect x="1122" y="255" width="1" height="20" fill="#f23645"/>
<rect x="1121" y="255" width="3" height="16" fill="#f23645"/>
<rect x="1126" y="264" width="1" height="25" fill="#f23645"/>
<rect x="1125" y="270" width="3" height="12" fill="#f23645"/>
<rect x="1129" y="267" width="1" height="22" fill="#f23645"/>
<rect x="1128" y="280" width="3" height="4" fill="#f23645"/>
<rect x="1133" y="277" width="1" height="8" fill="#f23645"/>
<rect x="1132" y="277" width="3" height="5" fill="#f23645"/>
<rect x="1136" y="277" width="1" height="7" fill="#f23645"/>
<rect x="1135" y="281" width="3" height="3" fill="#f23645"/>
<rect x="1140" y="263" width="1" height="26" fill="#f23645"/>
<rect x="1139" y="277" width="3" height="8" fill="#f23645"/>
<rect x="1143" y="280" width="1" height="58" fill="#f23645"/>
<rect x="1142" y="280" width="3" height="22" fill="#f23645"/>
<rect x="1147" y="297" width="1" height="23" fill="#f23645"/>
<rect x="1146" y="304" width="3" height="12" fill="#f23645"/>
<rect x="1150" y="305" width="1" height="29" fill="#f23645"/>
<rect x="1149" y="307" width="3" height="15" fill="#f23645"/>
<rect x="1154" y="312" width="1" height="28" fill="#f23645"/>
<rect x="1153" y="321" width="3" height="12" fill="#f23645"/>
<rect x="1157" y="321" width="1" height="25" fill="#f23645"/>
<rect x="1156" y="331" width="3" height="13" fill="#f23645"/>
<rect x="1161" y="232" width="1" height="116" fill="#089981"/>
<rect x="1160" y="294" width="3" height="53" fill="#089981"/>
<rect x="1164" y="289" width="1" height="30" fill="#f23645"/>
<rect x="1163" y="297" width="3" height="8" fill="#f23645"/>
<rect x="1168" y="297" width="1" height="9" fill="#089981"/>
<rect x="1167" y="301" width="3" height="4" fill="#089981"/>
<rect x="10" y="301" width="1" height="1" fill="#089981"/><rect x="13" y="301" width="1" height="1" fill="#089981"/><rect x="16" y="301" width="1" height="1" fill="#089981"/><rect x="19" y="301" width="1" height="1" fill="#089981"/><rect x="22" y="301" width="1" height="1" fill="#089981"/><rect x="25" y="301" width="1" height="1" fill="#089981"/><rect x="28" y="301" width="1" height="1" fill="#089981"/><rect x="31" y="301" width="1" height="1" fill="#089981"/><rect x="34" y="301" width="1" height="1" fill="#089981"/><rect x="37" y="301" width="1" height="1" fill="#089981"/><rect x="40" y="301" width="1" height="1" fill="#089981"/><rect x="43" y="301" width="1" height="1" fill="#089981"/><rect x="46" y="301" width="1" height="1" fill="#089981"/><rect x="49" y="301" width="1" height="1" fill="#089981"/><rect x="52" y="301" width="1" height="1" fill="#089981"/><rect x="55" y="301" width="1" height="1" fill="#089981"/><rect x="58" y="301" width="1" height="1" fill="#089981"/><rect x="61" y="301" width="1" height="1" fill="#089981"/><rect x="64" y="301" width="1" height="1" fill="#089981"/><rect x="67" y="301" width="1" height="1" fill="#089981"/><rect x="70" y="301" width="1" height="1" fill="#089981"/><rect x="73" y="301" width="1" height="1" fill="#089981"/><rect x="76" y="301" width="1" height="1" fill="#089981"/><rect x="79" y="301" width="1" height="1" fill="#089981"/><rect x="82" y="301" width="1" height="1" fill="#089981"/><rect x="85" y="301" width="1" height="1" fill="#089981"/><rect x="88" y="301" width="1" height="1" fill="#089981"/><rect x="91" y="301" width="1" height="1" fill="#089981"/><rect x="94" y="301" width="1" height="1" fill="#089981"/><rect x="97" y="301" width="1" height="1" fill="#089981"/><rect x="100" y="301" width="1" height="1" fill="#089981"/><rect x="103" y="301" width="1" height="1" fill="#089981"/><rect x="106" y="301" width="1" height="1" fill="#089981"/><rect x="109" y="301" width="1" height="1" fill="#089981"/><rect x="112" y="301" width="1" height="1" fill="#089981"/><rect x="115" y="301" width="1" height="1" fill="#089981"/><rect x="118" y="301" width="1" height="1" fill="#089981"/><rect x="121" y="301" width="1" height="1" fill="#089981"/><rect x="124" y="301" width="1" height="1" fill="#089981"/><rect x="127" y="301" width="1" height="1" fill="#089981"/><rect x="130" y="301" width="1" height="1" fill="#089981"/><rect x="133" y="301" width="1" height="1" fill="#089981"/><rect x="136" y="301" width="1" height="1" fill="#089981"/><rect x="139" y="301" width="1" height="1" fill="#089981"/><rect x="142" y="301" width="1" height="1" fill="#089981"/><rect x="145" y="301" width="1" height="1" fill="#089981"/><rect x="148" y="301" width="1" height="1" fill="#089981"/><rect x="151" y="301" width="1" height="1" fill="#089981"/><rect x="154" y="301" width="1" height="1" fill="#089981"/><rect x="157" y="301" width="1" height="1" fill="#089981"/><rect x="160" y="301" width="1" height="1" fill="#089981"/><rect x="163" y="301" width="1" height="1" fill="#089981"/><rect x="166" y="301" width="1" height="1" fill="#089981"/><rect x="169" y="301" width="1" height="1" fill="#089981"/><rect x="172" y="301" width="1" height="1" fill="#089981"/><rect x="175" y="301" width="1" height="1" fill="#089981"/><rect x="178" y="301" width="1" height="1" fill="#089981"/><rect x="181" y="301" width="1" height="1" fill="#089981"/><rect x="184" y="301" width="1" height="1" fill="#089981"/><rect x="187" y="301" width="1" height="1" fill="#089981"/><rect x="190" y="301" width="1" height="1" fill="#089981"/><rect x="193" y="301" width="1" height="1" fill="#089981"/><rect x="196" y="301" width="1" height="1" fill="#089981"/><rect x="199" y="301" width="1" height="1" fill="#089981"/><rect x="202" y="301" width="1" height="1" fill="#089981"/><rect x="205" y="301" width="1" height="1" fill="#089981"/><rect x="208" y="301" width="1" height="1" fill="#089981"/><rect x="211" y="301" width="1" height="1" fill="#089981"/><rect x="214" y="301" width="1" height="1" fill="#089981"/><rect x="217" y="301" width="1" height="1" fill="#089981"/><rect x="220" y="301" width="1" height="1" fill="#089981"/><rect x="223" y="301" width="1" height="1" fill="#089981"/><rect x="226" y="301" width="1" height="1" fill="#089981"/><rect x="229" y="301" width="1" height="1" fill="#089981"/><rect x="232" y="301" width="1" height="1" fill="#089981"/><rect x="235" y="301" width="1" height="1" fill="#089981"/><rect x="238" y="301" width="1" height="1" fill="#089981"/><rect x="241" y="301" width="1" height="1" fill="#089981"/><rect x="244" y="301" width="1" height="1" fill="#089981"/><rect x="247" y="301" width="1" height="1" fill="#089981"/><rect x="250" y="301" width="1" height="1" fill="#089981"/><rect x="253" y="301" width="1" height="1" fill="#089981"/><rect x="256" y="301" width="1" height="1" fill="#089981"/><rect x="259" y="301" width="1" height="1" fill="#089981"/><rect x="262" y="301" width="1" height="1" fill="#089981"/><rect x="265" y="301" width="1" height="1" fill="#089981"/><rect x="268" y="301" width="1" height="1" fill="#089981"/><rect x="271" y="301" width="1" height="1" fill="#089981"/><rect x="274" y="301" width="1" height="1" fill="#089981"/><rect x="277" y="301" width="1" height="1" fill="#089981"/><rect x="280" y="301" width="1" height="1" fill="#089981"/><rect x="283" y="301" width="1" height="1" fill="#089981"/><rect x="286" y="301" width="1" height="1" fill="#089981"/><rect x="289" y="301" width="1" height="1" fill="#089981"/><rect x="292" y="301" width="1" height="1" fill="#089981"/><rect x="295" y="301" width="1" height="1" fill="#089981"/><rect x="298" y="301" width="1" height="1" fill="#089981"/><rect x="301" y="301" width="1" height="1" fill="#089981"/><rect x="304" y="301" width="1" height="1" fill="#089981"/><rect x="307" y="301" width="1" height="1" fill="#089981"/><rect x="310" y="301" width="1" height="1" fill="#089981"/><rect x="313" y="301" width="1" height="1" fill="#089981"/><rect x="316" y="301" width="1" height="1" fill="#089981"/><rect x="319" y="301" width="1" height="1" fill="#089981"/><rect x="322" y="301" width="1" height="1" fill="#089981"/><rect x="325" y="301" width="1" height="1" fill="#089981"/><rect x="328" y="301" width="1" height="1" fill="#089981"/><rect x="331" y="301" width="1" height="1" fill="#089981"/><rect x="334" y="301" width="1" height="1" fill="#089981"/><rect x="337" y="301" width="1" height="1" fill="#089981"/><rect x="340" y="301" width="1" height="1" fill="#089981"/><rect x="343" y="301" width="1" height="1" fill="#089981"/><rect x="346" y="301" width="1" height="1" fill="#089981"/><rect x="349" y="301" width="1" height="1" fill="#089981"/><rect x="352" y="301" width="1" height="1" fill="#089981"/><rect x="355" y="301" width="1" height="1" fill="#089981"/><rect x="358" y="301" width="1" height="1" fill="#089981"/><rect x="361" y="301" width="1" height="1" fill="#089981"/><rect x="364" y="301" width="1" height="1" fill="#089981"/><rect x="367" y="301" width="1" height="1" fill="#089981"/><rect x="370" y="301" width="1" height="1" fill="#089981"/><rect x="373" y="301" width="1" height="1" fill="#089981"/><rect x="376" y="301" width="1" height="1" fill="#089981"/><rect x="379" y="301" width="1" height="1" fill="#089981"/><rect x="382" y="301" width="1" height="1" fill="#089981"/><rect x="385" y="301" width="1" height="1" fill="#089981"/><rect x="388" y="301" width="1" height="1" fill="#089981"/><rect x="391" y="301" width="1" height="1" fill="#089981"/><rect x="394" y="301" width="1" height="1" fill="#089981"/><rect x="397" y="301" width="1" height="1" fill="#089981"/><rect x="400" y="301" width="1" height="1" fill="#089981"/><rect x="403" y="301" width="1" height="1" fill="#089981"/><rect x="406" y="301" width="1" height="1" fill="#089981"/><rect x="409" y="301" width="1" height="1" fill="#089981"/><rect x="412" y="301" width="1" height="1" fill="#089981"/><rect x="415" y="301" width="1" height="1" fill="#089981"/><rect x="418" y="301" width="1" height="1" fill="#089981"/><rect x="421" y="301" width="1" height="1" fill="#089981"/><rect x="424" y="301" width="1" height="1" fill="#089981"/><rect x="427" y="301" width="1" height="1" fill="#089981"/><rect x="430" y="301" width="1" height="1" fill="#089981"/><rect x="433" y="301" width="1" height="1" fill="#089981"/><rect x="436" y="301" width="1" height="1" fill="#089981"/><rect x="439" y="301" width="1" height="1" fill="#089981"/><rect x="442" y="301" width="1" height="1" fill="#089981"/><rect x="445" y="301" width="1" height="1" fill="#089981"/><rect x="448" y="301" width="1" height="1" fill="#089981"/><rect x="451" y="301" width="1" height="1" fill="#089981"/><rect x="454" y="301" width="1" height="1" fill="#089981"/><rect x="457" y="301" width="1" height="1" fill="#089981"/><rect x="460" y="301" width="1" height="1" fill="#089981"/><rect x="463" y="301" width="1" height="1" fill="#089981"/><rect x="466" y="301" width="1" height="1" fill="#089981"/><rect x="469" y="301" width="1" height="1" fill="#089981"/><rect x="472" y="301" width="1" height="1" fill="#089981"/><rect x="475" y="301" width="1" height="1" fill="#089981"/><rect x="478" y="301" width="1" height="1" fill="#089981"/><rect x="481" y="301" width="1" height="1" fill="#089981"/><rect x="484" y="301" width="1" height="1" fill="#089981"/><rect x="487" y="301" width="1" height="1" fill="#089981"/><rect x="490" y="301" width="1" height="1" fill="#089981"/><rect x="493" y="301" width="1" height="1" fill="#089981"/><rect x="496" y="301" width="1" height="1" fill="#089981"/><rect x="499" y="301" width="1" height="1" fill="#089981"/><rect x="502" y="301" width="1" height="1" fill="#089981"/><rect x="505" y="301" width="1" height="1" fill="#089981"/><rect x="508" y="301" width="1" height="1" fill="#089981"/><rect x="511" y="301" width="1" height="1" fill="#089981"/><rect x="514" y="301" width="1" height="1" fill="#089981"/><rect x="517" y="301" width="1" height="1" fill="#089981"/><rect x="520" y="301" width="1" height="1" fill="#089981"/><rect x="523" y="301" width="1" height="1" fill="#089981"/><rect x="526" y="301" width="1" height="1" fill="#089981"/><rect x="529" y="301" width="1" height="1" fill="#089981"/><rect x="532" y="301" width="1" height="1" fill="#089981"/><rect x="535" y="301" width="1" height="1" fill="#089981"/><rect x="538" y="301" width="1" height="1" fill="#089981"/><rect x="541" y="301" width="1" height="1" fill="#089981"/><rect x="544" y="301" width="1" height="1" fill="#089981"/><rect x="547" y="301" width="1" height="1" fill="#089981"/><rect x="550" y="301" width="1" height="1" fill="#089981"/><rect x="553" y="301" width="1" height="1" fill="#089981"/><rect x="556" y="301" width="1" height="1" fill="#089981"/><rect x="559" y="301" width="1" height="1" fill="#089981"/><rect x="562" y="301" width="1" height="1" fill="#089981"/><rect x="565" y="301" width="1" height="1" fill="#089981"/><rect x="568" y="301" width="1" height="1" fill="#089981"/><rect x="571" y="301" width="1" height="1" fill="#089981"/><rect x="574" y="301" width="1" height="1" fill="#089981"/><rect x="577" y="301" width="1" height="1" fill="#089981"/><rect x="580" y="301" width="1" height="1" fill="#089981"/><rect x="583" y="301" width="1" height="1" fill="#089981"/><rect x="586" y="301" width="1" height="1" fill="#089981"/><rect x="589" y="301" width="1" height="1" fill="#089981"/><rect x="592" y="301" width="1" height="1" fill="#089981"/><rect x="595" y="301" width="1" height="1" fill="#089981"/><rect x="598" y="301" width="1" height="1" fill="#089981"/><rect x="601" y="301" width="1" height="1" fill="#089981"/><rect x="604" y="301" width="1" height="1" fill="#089981"/><rect x="607" y="301" width="1" height="1" fill="#089981"/><rect x="610" y="301" width="1" height="1" fill="#089981"/><rect x="613" y="301" width="1" height="1" fill="#089981"/><rect x="616" y="301" width="1" height="1" fill="#089981"/><rect x="619" y="301" width="1" height="1" fill="#089981"/><rect x="622" y="301" width="1" height="1" fill="#089981"/><rect x="625" y="301" width="1" height="1" fill="#089981"/><rect x="628" y="301" width="1" height="1" fill="#089981"/><rect x="631" y="301" width="1" height="1" fill="#089981"/><rect x="634" y="301" width="1" height="1" fill="#089981"/><rect x="637" y="301" width="1" height="1" fill="#089981"/><rect x="640" y="301" width="1" height="1" fill="#089981"/><rect x="643" y="301" width="1" height="1" fill="#089981"/><rect x="646" y="301" width="1" height="1" fill="#089981"/><rect x="649" y="301" width="1" height="1" fill="#089981"/><rect x="652" y="301" width="1" height="1" fill="#089981"/><rect x="655" y="301" width="1" height="1" fill="#089981"/><rect x="658" y="301" width="1" height="1" fill="#089981"/><rect x="661" y="301" width="1" height="1" fill="#089981"/><rect x="664" y="301" width="1" height="1" fill="#089981"/><rect x="667" y="301" width="1" height="1" fill="#089981"/><rect x="670" y="301" width="1" height="1" fill="#089981"/><rect x="673" y="301" width="1" height="1" fill="#089981"/><rect x="676" y="301" width="1" height="1" fill="#089981"/><rect x="679" y="301" width="1" height="1" fill="#089981"/><rect x="682" y="301" width="1" height="1" fill="#089981"/><rect x="685" y="301" width="1" height="1" fill="#089981"/><rect x="688" y="301" width="1" height="1" fill="#089981"/><rect x="691" y="301" width="1" height="1" fill="#089981"/><rect x="694" y="301" width="1" height="1" fill="#089981"/><rect x="697" y="301" width="1" height="1" fill="#089981"/><rect x="700" y="301" width="1" height="1" fill="#089981"/><rect x="703" y="301" width="1" height="1" fill="#089981"/><rect x="706" y="301" width="1" height="1" fill="#089981"/><rect x="709" y="301" width="1" height="1" fill="#089981"/><rect x="712" y="301" width="1" height="1" fill="#089981"/><rect x="715" y="301" width="1" height="1" fill="#089981"/><rect x="718" y="301" width="1" height="1" fill="#089981"/><rect x="721" y="301" width="1" height="1" fill="#089981"/><rect x="724" y="301" width="1" height="1" fill="#089981"/><rect x="727" y="301" width="1" height="1" fill="#089981"/><rect x="730" y="301" width="1" height="1" fill="#089981"/><rect x="733" y="301" width="1" height="1" fill="#089981"/><rect x="736" y="301" width="1" height="1" fill="#089981"/><rect x="739" y="301" width="1" height="1" fill="#089981"/><rect x="742" y="301" width="1" height="1" fill="#089981"/><rect x="745" y="301" width="1" height="1" fill="#089981"/><rect x="748" y="301" width="1" height="1" fill="#089981"/><rect x="751" y="301" width="1" height="1" fill="#089981"/><rect x="754" y="301" width="1" height="1" fill="#089981"/><rect x="757" y="301" width="1" height="1" fill="#089981"/><rect x="760" y="301" width="1" height="1" fill="#089981"/><rect x="763" y="301" width="1" height="1" fill="#089981"/><rect x="766" y="301" width="1" height="1" fill="#089981"/><rect x="769" y="301" width="1" height="1" fill="#089981"/><rect x="772" y="301" width="1" height="1" fill="#089981"/><rect x="775" y="301" width="1" height="1" fill="#089981"/><rect x="778" y="301" width="1" height="1" fill="#089981"/><rect x="781" y="301" width="1" height="1" fill="#089981"/><rect x="784" y="301" width="1" height="1" fill="#089981"/><rect x="787" y="301" width="1" height="1" fill="#089981"/><rect x="790" y="301" width="1" height="1" fill="#089981"/><rect x="793" y="301" width="1" height="1" fill="#089981"/><rect x="796" y="301" width="1" height="1" fill="#089981"/><rect x="799" y="301" width="1" height="1" fill="#089981"/><rect x="802" y="301" width="1" height="1" fill="#089981"/><rect x="805" y="301" width="1" height="1" fill="#089981"/><rect x="808" y="301" width="1" height="1" fill="#089981"/><rect x="811" y="301" width="1" height="1" fill="#089981"/><rect x="814" y="301" width="1" height="1" fill="#089981"/><rect x="817" y="301" width="1" height="1" fill="#089981"/><rect x="820" y="301" width="1" height="1" fill="#089981"/><rect x="823" y="301" width="1" height="1" fill="#089981"/><rect x="826" y="301" width="1" height="1" fill="#089981"/><rect x="829" y="301" width="1" height="1" fill="#089981"/><rect x="832" y="301" width="1" height="1" fill="#089981"/><rect x="835" y="301" width="1" height="1" fill="#089981"/><rect x="838" y="301" width="1" height="1" fill="#089981"/><rect x="841" y="301" width="1" height="1" fill="#089981"/><rect x="844" y="301" width="1" height="1" fill="#089981"/><rect x="847" y="301" width="1" height="1" fill="#089981"/><rect x="850" y="301" width="1" height="1" fill="#089981"/><rect x="853" y="301" width="1" height="1" fill="#089981"/><rect x="856" y="301" width="1" height="1" fill="#089981"/><rect x="859" y="301" width="1" height="1" fill="#089981"/><rect x="862" y="301" width="1" height="1" fill="#089981"/><rect x="865" y="301" width="1" height="1" fill="#089981"/><rect x="868" y="301" width="1" height="1" fill="#089981"/><rect x="871" y="301" width="1" height="1" fill="#089981"/><rect x="874" y="301" width="1" height="1" fill="#089981"/><rect x="877" y="301" width="1" height="1" fill="#089981"/><rect x="880" y="301" width="1" height="1" fill="#089981"/><rect x="883" y="301" width="1" height="1" fill="#089981"/><rect x="886" y="301" width="1" height="1" fill="#089981"/><rect x="889" y="301" width="1" height="1" fill="#089981"/><rect x="892" y="301" width="1" height="1" fill="#089981"/><rect x="895" y="301" width="1" height="1" fill="#089981"/><rect x="898" y="301" width="1" height="1" fill="#089981"/><rect x="901" y="301" width="1" height="1" fill="#089981"/><rect x="904" y="301" width="1" height="1" fill="#089981"/><rect x="907" y="301" width="1" height="1" fill="#089981"/><rect x="910" y="301" width="1" height="1" fill="#089981"/><rect x="913" y="301" width="1" height="1" fill="#089981"/><rect x="916" y="301" width="1" height="1" fill="#089981"/><rect x="919" y="301" width="1" height="1" fill="#089981"/><rect x="922" y="301" width="1" height="1" fill="#089981"/><rect x="925" y="301" width="1" height="1" fill="#089981"/><rect x="928" y="301" width="1" height="1" fill="#089981"/><rect x="931" y="301" width="1" height="1" fill="#089981"/><rect x="934" y="301" width="1" height="1" fill="#089981"/><rect x="937" y="301" width="1" height="1" fill="#089981"/><rect x="940" y="301" width="1" height="1" fill="#089981"/><rect x="943" y="301" width="1" height="1" fill="#089981"/><rect x="946" y="301" width="1" height="1" fill="#089981"/><rect x="949" y="301" width="1" height="1" fill="#089981"/><rect x="952" y="301" width="1" height="1" fill="#089981"/><rect x="955" y="301" width="1" height="1" fill="#089981"/><rect x="958" y="301" width="1" height="1" fill="#089981"/><rect x="961" y="301" width="1" height="1" fill="#089981"/><rect x="964" y="301" width="1" height="1" fill="#089981"/><rect x="967" y="301" width="1" height="1" fill="#089981"/><rect x="970" y="301" width="1" height="1" fill="#089981"/><rect x="973" y="301" width="1" height="1" fill="#089981"/><rect x="976" y="301" width="1" height="1" fill="#089981"/><rect x="979" y="301" width="1" height="1" fill="#089981"/><rect x="982" y="301" width="1" height="1" fill="#089981"/><rect x="985" y="301" width="1" height="1" fill="#089981"/><rect x="988" y="301" width="1" height="1" fill="#089981"/><rect x="991" y="301" width="1" height="1" fill="#089981"/><rect x="994" y="301" width="1" height="1" fill="#089981"/><rect x="997" y="301" width="1" height="1" fill="#089981"/><rect x="1000" y="301" width="1" height="1" fill="#089981"/><rect x="1003" y="301" width="1" height="1" fill="#089981"/><rect x="1006" y="301" width="1" height="1" fill="#089981"/><rect x="1009" y="301" width="1" height="1" fill="#089981"/><rect x="1012" y="301" width="1" height="1" fill="#089981"/><rect x="1015" y="301" width="1" height="1" fill="#089981"/><rect x="1018" y="301" width="1" height="1" fill="#089981"/><rect x="1021" y="301" width="1" height="1" fill="#089981"/><rect x="1024" y="301" width="1" height="1" fill="#089981"/><rect x="1027" y="301" width="1" height="1" fill="#089981"/><rect x="1030" y="301" width="1" height="1" fill="#089981"/><rect x="1033" y="301" width="1" height="1" fill="#089981"/><rect x="1036" y="301" width="1" height="1" fill="#089981"/><rect x="1039" y="301" width="1" height="1" fill="#089981"/><rect x="1042" y="301" width="1" height="1" fill="#089981"/><rect x="1045" y="301" width="1" height="1" fill="#089981"/><rect x="1048" y="301" width="1" height="1" fill="#089981"/><rect x="1051" y="301" width="1" height="1" fill="#089981"/><rect x="1054" y="301" width="1" height="1" fill="#089981"/><rect x="1057" y="301" width="1" height="1" fill="#089981"/><rect x="1060" y="301" width="1" height="1" fill="#089981"/><rect x="1063" y="301" width="1" height="1" fill="#089981"/><rect x="1066" y="301" width="1" height="1" fill="#089981"/><rect x="1069" y="301" width="1" height="1" fill="#089981"/><rect x="1072" y="301" width="1" height="1" fill="#089981"/><rect x="1075" y="301" width="1" height="1" fill="#089981"/><rect x="1078" y="301" width="1" height="1" fill="#089981"/><rect x="1081" y="301" width="1" height="1" fill="#089981"/><rect x="1084" y="301" width="1" height="1" fill="#089981"/><rect x="1087" y="301" width="1" height="1" fill="#089981"/><rect x="1090" y="301" width="1" height="1" fill="#089981"/><rect x="1093" y="301" width="1" height="1" fill="#089981"/><rect x="1096" y="301" width="1" height="1" fill="#089981"/><rect x="1099" y="301" width="1" height="1" fill="#089981"/><rect x="1102" y="301" width="1" height="1" fill="#089981"/><rect x="1105" y="301" width="1" height="1" fill="#089981"/><rect x="1108" y="301" width="1" height="1" fill="#089981"/><rect x="1111" y="301" width="1" height="1" fill="#089981"/><rect x="1114" y="301" width="1" height="1" fill="#089981"/><rect x="1117" y="301" width="1" height="1" fill="#089981"/><rect x="1120" y="301" width="1" height="1" fill="#089981"/><rect x="1123" y="301" width="1" height="1" fill="#089981"/><rect x="1126" y="301" width="1" height="1" fill="#089981"/><rect x="1129" y="301" width="1" height="1" fill="#089981"/><rect x="1132" y="301" width="1" height="1" fill="#089981"/><rect x="1135" y="301" width="1" height="1" fill="#089981"/><rect x="1138" y="301" width="1" height="1" fill="#089981"/><rect x="1141" y="301" width="1" height="1" fill="#089981"/><rect x="1144" y="301" width="1" height="1" fill="#089981"/><rect x="1147" y="301" width="1" height="1" fill="#089981"/><rect x="1150" y="301" width="1" height="1" fill="#089981"/><rect x="1153" y="301" width="1" height="1" fill="#089981"/><rect x="1156" y="301" width="1" height="1" fill="#089981"/><rect x="1159" y="301" width="1" height="1" fill="#089981"/><rect x="1162" y="301" width="1" height="1" fill="#089981"/><rect x="1165" y="301" width="1" height="1" fill="#089981"/><rect x="1168" y="301" width="1" height="1" fill="#089981"/><rect x="1171" y="301" width="1" height="1" fill="#089981"/><rect x="1174" y="301" width="1" height="1" fill="#089981"/><rect x="1177" y="301" width="1" height="1" fill="#089981"/><rect x="1180" y="301" width="1" height="1" fill="#089981"/><rect x="1183" y="301" width="1" height="1" fill="#089981"/><rect x="1186" y="301" width="1" height="1" fill="#089981"/><rect x="1189" y="301" width="1" height="1" fill="#089981"/><rect x="1192" y="301" width="1" height="1" fill="#089981"/><rect x="1195" y="301" width="1" height="1" fill="#089981"/><rect x="1198" y="301" width="1" height="1" fill="#089981"/><rect x="1201" y="301" width="1" height="1" fill="#089981"/><rect x="1204" y="301" width="1" height="1" fill="#089981"/>
</svg>
<div class="leg">"ЭЛ5-Энерго" ПАО · 1Д · RUS&nbsp; ОТКР<span class="g">0,4950</span>&nbsp; МАКС<span class="g">0,4976</span>&nbsp; МИН<span class="g">0,4946</span>&nbsp; ЗАКР<span class="g">0,4962</span>&nbsp; <span class="g">+0,0012 (+0,24%)</span></div>
<div class="yl" style="top:54px">0,5750</div><div class="yl" style="top:130px">0,5500</div><div class="yl" style="top:206px">0,5250</div><div class="yl" style="top:282px">0,5000</div><div class="yl" style="top:358px">0,4750</div><div class="yl" style="top:434px">0,4500</div><div class="yl" style="top:510px">0,4250</div>
<div class="rubw"></div><div class="rub"><span>RUB</span></div>
<div class="plab"><div class="p">0,4962</div><div class="t">12:19:50</div></div>
<div class="e" style="left:20px"><svg width="19" height="19" viewBox="0 0 19 19"><rect x="0.9" y="0.9" width="17.2" height="17.2" rx="2.2" fill="#fff" stroke="#4c4e55" stroke-width="1.75"/></svg><span>E</span></div><div class="e" style="left:116px"><svg width="19" height="19" viewBox="0 0 19 19"><rect x="0.9" y="0.9" width="17.2" height="17.2" rx="2.2" fill="#fff" stroke="#4c4e55" stroke-width="1.75"/></svg><span>E</span></div><div class="e" style="left:429px"><svg width="19" height="19" viewBox="0 0 19 19"><rect x="0.9" y="0.9" width="17.2" height="17.2" rx="2.2" fill="#fff" stroke="#4c4e55" stroke-width="1.75"/></svg><span>E</span></div><div class="e" style="left:711px"><svg width="19" height="19" viewBox="0 0 19 19"><rect x="0.9" y="0.9" width="17.2" height="17.2" rx="2.2" fill="#fff" stroke="#4c4e55" stroke-width="1.75"/></svg><span>E</span></div>
<div class="xl" style="left:2.8px">Апр</div><div class="xl" style="left:101.8px">Май</div><div class="xl" style="left:196.8px">Июн</div><div class="xl" style="left:291.8px">Июл</div><div class="xl" style="left:400.8px">Авг</div><div class="xl" style="left:495.8px">Сен</div><div class="xl" style="left:594.8px">Окт</div><div class="xl" style="left:696.8px">Ноя</div><div class="xl" style="left:788.8px">Дек</div><div class="xl b" style="left:887.8px">2026</div><div class="xl" style="left:971.8px">Фев</div><div class="xl" style="left:1063.8px">Мар</div><div class="xl" style="left:1158.8px">Апр</div>
<svg class="logo" style="left:12px;top:575px" width="31" height="16" viewBox="0 0 31 16" shape-rendering="auto">
<path d="M0.06 0.06H11.9V14.9H6V6H0.06Z" fill="#131313"/>
<circle cx="16.9" cy="3" r="2.9" fill="#131313"/>
<path d="M23 0.06H29.9L23.9 14.9H17.1Z" fill="#131313"/>
</svg>
<div class="tv">TradingView</div>
</div>
</body></html>
